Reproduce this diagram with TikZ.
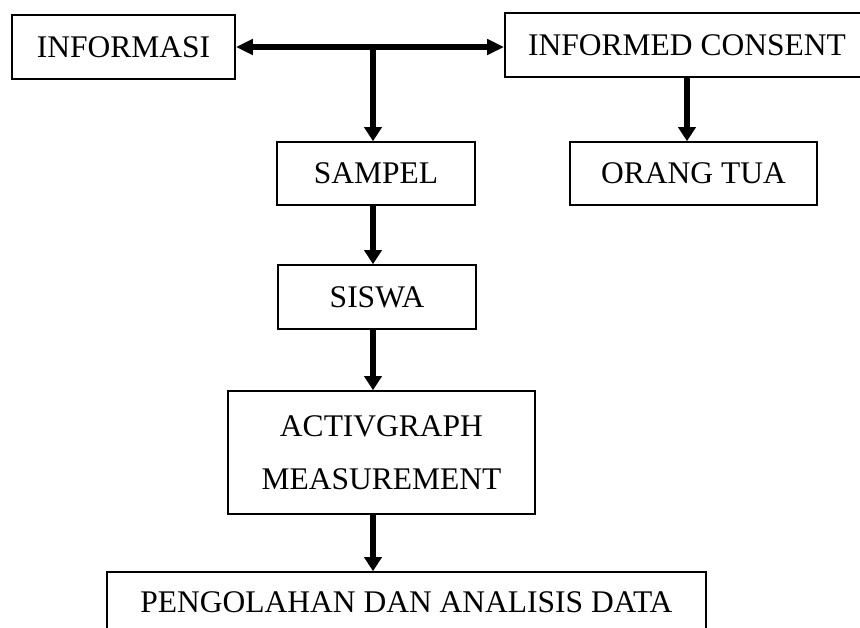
\documentclass[tikz,border=0pt]{standalone}
\usepackage{fontspec}
\setmainfont{Liberation Serif}
\usetikzlibrary{arrows.meta}

\begin{document}
\begin{tikzpicture}[x=1pt,y=-1pt,
    kotak/.style={draw, line width=1.6pt, rectangle, inner sep=0pt, align=center,
      font=\fontsize{31.5}{53}\selectfont},
    panah/.style={line width=6pt, -{Triangle[width=17pt,length=14pt]}},
    panahdua/.style={line width=6pt, {Triangle[width=15pt,length=17pt]}-{Triangle[width=15pt,length=17pt]}}]
    \useasboundingbox (0,0) rectangle (860,627);
    \clip (0,0) rectangle (860,627);

    \node[kotak, minimum width=223, minimum height=64] (informasi) at (123.5,47) {INFORMASI};
    \node[kotak, minimum width=364, minimum height=64] (consent) at (687,45) {INFORMED CONSENT};
    \node[kotak, minimum width=198, minimum height=63] (sampel) at (376,173.5) {SAMPEL};
    \node[kotak, minimum width=247, minimum height=63] (orangtua) at (693.5,173.5) {ORANG TUA};
    \node[kotak, minimum width=198, minimum height=64] (siswa) at (377,297) {SISWA};
    \node[kotak, minimum width=307, minimum height=123] (activgraph) at (381.5,452.5) {ACTIVGRAPH\\MEASUREMENT};
    \node[kotak, minimum width=599, minimum height=60] (olah) at (406.5,602) {PENGOLAHAN DAN ANALISIS DATA};

    \coordinate (cabang) at (373,47);
    \draw[panahdua] (informasi.east) -- (consent.west |- informasi.east);
    \draw[panah] (cabang) -- (cabang |- sampel.north);
    \draw[panah] (consent.south) -- (consent.south |- orangtua.north);
    \draw[panah] (cabang |- sampel.south) -- (cabang |- siswa.north);
    \draw[panah] (cabang |- siswa.south) -- (cabang |- activgraph.north);
    \draw[panah] (cabang |- activgraph.south) -- (cabang |- olah.north);
\end{tikzpicture}
\end{document}
